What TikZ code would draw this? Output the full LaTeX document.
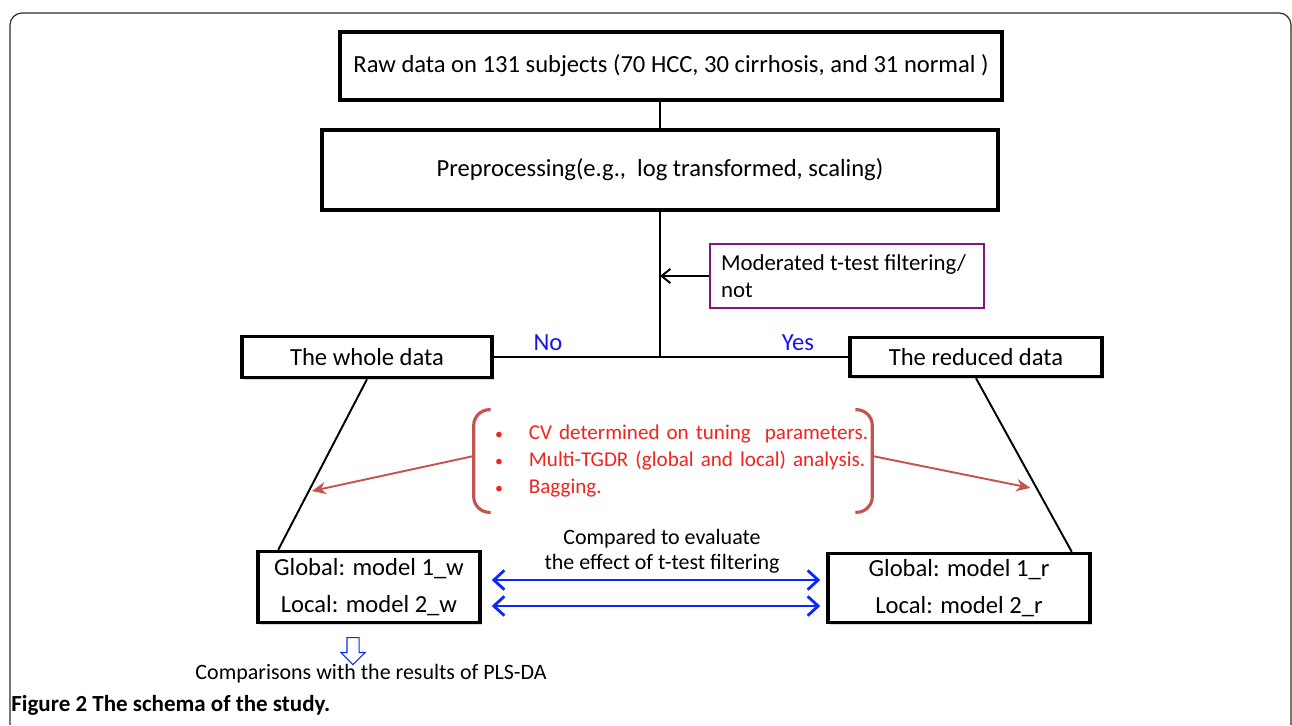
\documentclass[tikz,border=0pt]{standalone}
\usepackage{fontspec}
\setmainfont{Carlito}
\usetikzlibrary{positioning,calc,shapes.arrows,arrows.meta,shadows}
\definecolor{filtpurple}{RGB}{128,24,128}
\definecolor{choiceblue}{RGB}{20,20,235}
\definecolor{listred}{RGB}{240,36,30}
\definecolor{bracketred}{RGB}{196,84,80}
\definecolor{cmpblue}{RGB}{10,40,250}
\definecolor{framegray}{RGB}{45,45,45}

\begin{document}
\begin{tikzpicture}[
    x=0.02cm, y=-0.02cm,
    box/.style={rectangle, draw=black, fill=white, line width=2pt, align=center,
                inner sep=0pt, font=\fontsize{14}{17}\selectfont,
                drop shadow={opacity=0.3, shadow xshift=1.2pt, shadow yshift=-1.2pt}},
    filtbox/.style={rectangle, draw=filtpurple, fill=white, line width=1.2pt, align=flush left,
                inner xsep=0.22cm, inner ysep=0pt, text width=5.04cm,
                minimum height=1.28cm, font=\fontsize{13}{15.5}\selectfont},
    choice/.style={text=choiceblue, font=\fontsize{14}{17}\selectfont},
    note/.style={align=center, inner sep=0pt, font=\fontsize{12.5}{14.5}\selectfont},
    link/.style={draw=black, line width=1.1pt},
    arrow/.style={-{Straight Barb[length=5pt,width=8pt]}, draw=black, line width=1.1pt},
    cmp/.style={{Straight Barb[length=6pt,width=11pt]}-{Straight Barb[length=6pt,width=11pt]},
                draw=cmpblue, line width=1.6pt},
    bracket/.style={draw=bracketred, line width=1.8pt, rounded corners=9pt},
    redarrow/.style={-{Stealth[length=8pt,width=7pt]}, draw=bracketred, line width=1.1pt}
]
\useasboundingbox (0,0) rectangle (1292,725);

\draw[framegray, line width=0.7pt, rounded corners=0.24cm]
    (10,725) -- (10,13) -- (1291,13) -- (1291,725);

\node[box, minimum width=13.24cm, minimum height=1.36cm] (raw) at (671,66)
    {Raw data on 131 subjects (70 HCC, 30 cirrhosis, and 31 normal )};
\node[box, minimum width=13.52cm, minimum height=1.6cm] (pre) at (660,170)
    {Preprocessing(e.g.,\ \ log transformed, scaling)};
\node[filtbox] (filt) at (847,276) {Moderated t-test \mbox{filtering/}\\not};

\node[box, minimum width=5cm, minimum height=0.82cm] (whole) at (367,357) {The whole data};
\node[box, minimum width=5.04cm, minimum height=0.78cm] (reduced) at (976,357) {The reduced data};
\node[choice] (no) at (548,343) {No};
\node[choice] (yes) at (798,343) {Yes};

\node[inner sep=0pt, text width=7.96cm, minimum height=2.04cm, align=left,
      text=listred, font=\fontsize{12}{15.4}\selectfont] (steps) at (673,461) {%
    \begin{tabular}{@{\hspace{0.42cm}}l@{\hspace{0.52cm}}l@{}}
    {\fontsize{9}{9}\selectfont\textbullet} & CV determined on tuning\ \ parameters.\\
    {\fontsize{9}{9}\selectfont\textbullet} & Multi-TGDR (global and local) analysis.\\
    {\fontsize{9}{9}\selectfont\textbullet} & Bagging.
    \end{tabular}};

\node[box, minimum width=4.44cm, minimum height=1.42cm] (w) at (369,587)
    {Global: model 1\_w\\[4pt]Local: model 2\_w};
\node[box, minimum width=5.24cm, minimum height=1.38cm] (r) at (959,588)
    {Global: model 1\_r\\[4pt]Local: model 2\_r};
\node[note] (cmptext) at (662,551) {Compared to evaluate\\the effect of t-test filtering};

\node[single arrow, draw=cmpblue, fill=white, line width=0.6pt, shape border rotate=270,
      minimum height=0.54cm, inner sep=0.11cm, single arrow head extend=0.12cm] (down) at (353,648) {};
\node[note] (pls) at (371,674) {Comparisons with the results of PLS-DA};
\node[anchor=west, inner sep=0pt, font=\fontsize{13.1}{16}\selectfont\bfseries] (caption) at (11,705)
    {Figure 2 The schema of the study.};

\draw[link] (raw.south -| pre.north) -- (pre.north);
\draw[link] (pre.south) -- (pre.south |- whole.east);
\draw[link] (whole.east) -- (reduced.west);
\draw[arrow] (filt.west) -- (filt.west -| pre.south);

\draw[link] (whole.south) -- ([xshift=0.44cm]w.north west)
    coordinate[pos=0.66] (wfoot);
\draw[link] (reduced.south) -- ([xshift=-0.4cm]r.north east)
    coordinate[pos=0.64] (rfoot);

\draw[bracket] ([xshift=0.34cm]steps.north west) -- (steps.north west)
    -- (steps.south west) -- ([xshift=0.34cm]steps.south west);
\draw[bracket] ([xshift=-0.34cm]steps.north east) -- (steps.north east)
    -- (steps.south east) -- ([xshift=-0.34cm]steps.south east);
\draw[redarrow, shorten >=2pt] ([yshift=0.1cm]steps.west) -- (wfoot);
\draw[redarrow, shorten >=4pt] ([yshift=0.1cm]steps.east) -- (rfoot);

\draw[cmp, shorten <=0.2cm, shorten >=0.12cm] ([yshift=0.14cm]w.east) -- ([yshift=0.14cm]w.east -| r.west);
\draw[cmp, shorten <=0.2cm, shorten >=0.12cm] ([yshift=-0.38cm]w.east) -- ([yshift=-0.38cm]w.east -| r.west);

\end{tikzpicture}
\end{document}
